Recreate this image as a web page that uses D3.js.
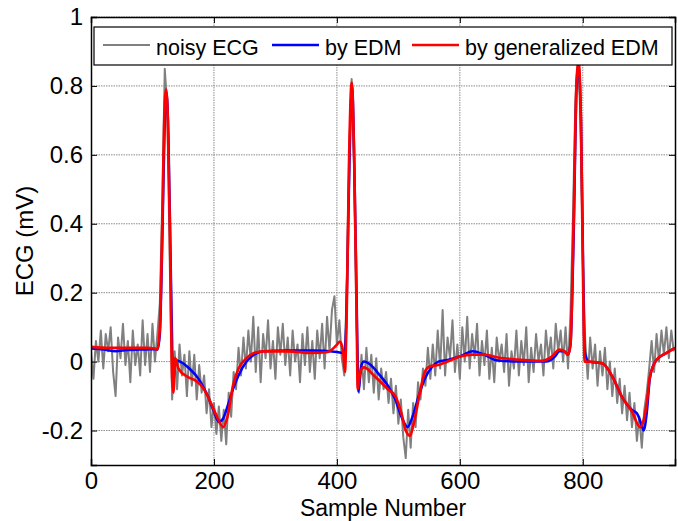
<!DOCTYPE html>
<html><head><meta charset="utf-8">
<script src="https://cdn.jsdelivr.net/npm/d3@7"></script>
<style>body{margin:0;background:#fff}svg{display:block}text{font-family:"Liberation Sans",Arial,sans-serif;fill:#000}</style>
</head><body>
<svg id="c" width="678" height="521"></svg>
<script>
// noisy ECG, one value every 4 samples starting at sample 0
const noisyStep = 4;
const noisyValues = [
0.03,-0.05,0.06,0.00,0.09,-0.02,0.08,0.03,0.10,-0.03,-0.10,0.07,0.01,0.11,-0.01,0.06,-0.06,0.09,-0.01,0.05,
-0.04,0.12,-0.01,0.08,-0.03,0.11,0.00,0.08,0.17,0.47,0.85,0.74,0.30,-0.11,0.03,-0.08,0.05,-0.04,0.02,-0.10,
0.03,-0.07,0.02,-0.11,-0.01,-0.09,-0.04,-0.15,-0.08,-0.19,-0.12,-0.21,-0.13,-0.23,-0.14,-0.24,-0.09,-0.16,-0.03,-0.08,
0.04,-0.04,0.07,-0.02,0.09,0.00,0.13,-0.03,0.10,-0.06,0.08,0.01,0.12,-0.02,0.06,-0.05,0.10,0.02,0.11,-0.01,
0.07,-0.04,0.09,0.00,0.05,-0.06,0.08,-0.01,0.10,-0.03,0.06,-0.05,0.09,0.01,0.11,-0.02,0.13,0.03,0.15,0.19,
0.05,0.12,0.01,-0.04,0.22,0.62,0.82,0.56,0.10,-0.09,0.02,-0.08,0.04,-0.06,0.02,-0.09,0.01,-0.11,-0.02,-0.08,
-0.03,-0.12,-0.05,-0.15,-0.07,-0.18,-0.11,-0.22,-0.28,-0.14,-0.25,-0.12,-0.19,-0.06,-0.11,-0.02,-0.07,0.04,-0.05,0.05,
-0.04,0.09,-0.02,0.15,-0.04,0.07,0.01,0.12,-0.03,0.05,-0.05,0.10,0.00,0.13,-0.02,0.08,0.01,0.11,-0.04,0.06,
-0.01,0.09,-0.05,0.04,-0.06,0.07,0.00,0.05,-0.03,0.08,-0.07,0.03,-0.02,0.09,-0.04,0.06,-0.01,0.10,-0.06,0.04,
-0.03,0.08,0.00,0.05,-0.04,0.09,0.01,0.07,-0.02,0.11,0.03,0.09,0.00,0.10,-0.02,0.14,0.42,0.76,0.88,0.72,
0.30,0.06,-0.05,0.07,-0.02,0.05,-0.07,0.03,-0.04,0.04,-0.08,0.00,-0.10,-0.02,-0.12,-0.05,-0.15,-0.07,-0.17,-0.09,
-0.19,-0.12,-0.23,-0.16,-0.25,-0.14,-0.09,-0.02,0.06,-0.03,0.08,0.00,0.09,0.02,0.10,0.01,0.09,0.03
];
// EDM result
const edmSamples = [0,20,40,60,80,100,108,112,116,120,123,126,130,134,137,145,160,175,190,200,208,215,222,231,240,253,265,280,320,360,400,412,415,418,422,425,428,432,435,440,444,455,470,483,495,505,515,523,533,543,555,565,580,600,621,640,662,700,740,755,762,770,776,780,785,790,793,797,800,803,810,832,850,863,880,888,893,899,904,909,915,920,936,950];
const edmValues = [0.038,0.035,0.03,0.034,0.035,0.036,0.035,0.08,0.35,0.70,0.78,0.65,0.25,-0.06,0.005,0.0,-0.02,-0.05,-0.10,-0.145,-0.175,-0.165,-0.13,-0.08,-0.04,0.0,0.02,0.03,0.032,0.032,0.028,0.025,0.1,0.35,0.7,0.80,0.6,0.2,-0.087,-0.01,0.0,-0.01,-0.04,-0.07,-0.11,-0.16,-0.19,-0.16,-0.10,-0.05,-0.015,0.0,0.005,0.015,0.03,0.02,0.003,0.0,0.0,0.015,0.03,0.03,0.02,0.05,0.35,0.8,0.86,0.7,0.35,0.03,0.0,-0.005,-0.05,-0.1,-0.14,-0.15,-0.17,-0.2,-0.15,-0.05,-0.01,0.005,0.025,0.04];
// generalized EDM result
const gedmSamples = [0,30,60,90,104,108,112,116,120,122,125,129,132,134,137,142,158,170,182,195,205,215,222,231,240,253,265,280,320,360,385,398,405,410,413,416,420,424,428,432,434,438,444,460,483,495,505,512,519,525,535,543,551,565,580,600,621,640,662,700,733,750,762,770,776,780,785,790,793,797,800,803,810,832,850,863,880,893,899,904,909,920,936,950];
const gedmValues = [0.043,0.04,0.04,0.04,0.038,0.035,0.1,0.4,0.75,0.79,0.7,0.3,-0.05,-0.09,0.01,-0.02,-0.045,-0.055,-0.075,-0.12,-0.16,-0.19,-0.16,-0.07,-0.02,0.01,0.025,0.03,0.03,0.025,0.028,0.045,0.058,0.03,-0.03,0.15,0.6,0.81,0.6,0.15,-0.08,-0.03,-0.017,-0.04,-0.08,-0.1,-0.15,-0.2,-0.215,-0.18,-0.09,-0.03,-0.014,-0.01,0.0,0.015,0.02,0.02,0.012,0.005,0.002,0.015,0.035,0.03,0.02,0.05,0.4,0.82,0.87,0.7,0.3,0.0,0.0,-0.005,-0.05,-0.1,-0.145,-0.19,-0.17,-0.12,-0.045,0.005,0.025,0.04];
const xTicks = [0,200,400,600,800];
const yTicks = [-0.2,0,0.2,0.4,0.6,0.8,1];
const yTickLabels = ["-0.2","0","0.2","0.4","0.6","0.8","1"];
const legendLabels = ["noisy ECG","by EDM","by generalized EDM"];
const seriesColors = ["#808080","#0000ff","#ff0000"];

const L=91,T=17,R=675,B=465;
const svg=d3.select("#c");
const x=d3.scaleLinear().domain([0,950]).range([L,R]);
const y=d3.scaleLinear().domain([-0.3,1]).range([B,T]);

// grid
const g=svg.append("g");
g.selectAll(".gx").data(xTicks.slice(1)).enter().append("line")
 .attr("x1",d=>x(d)).attr("x2",d=>x(d)).attr("y1",T).attr("y2",B)
 .attr("stroke","#8c8c8c").attr("stroke-width",1).attr("stroke-dasharray","1.5,1");
g.selectAll(".gy").data(yTicks).enter().append("line")
 .attr("y1",d=>y(d)).attr("y2",d=>y(d)).attr("x1",L).attr("x2",R)
 .attr("stroke","#8c8c8c").attr("stroke-width",1).attr("stroke-dasharray","1.5,1");

svg.append("defs").append("clipPath").attr("id","clip").append("rect")
 .attr("x",L).attr("y",T).attr("width",R-L).attr("height",B-T);
const plot=svg.append("g").attr("clip-path","url(#clip)");

const noisy=noisyValues.map((v,i)=>[i*noisyStep,v]);
const edm=edmSamples.map((s,i)=>[s,edmValues[i]]);
const gedm=gedmSamples.map((s,i)=>[s,gedmValues[i]]);
const lineStraight=d3.line().x(d=>x(d[0])).y(d=>y(d[1]));
const lineSmooth=d3.line().x(d=>x(d[0])).y(d=>y(d[1])).curve(d3.curveMonotoneX);
plot.append("path").attr("d",lineStraight(noisy)).attr("fill","none").attr("stroke",seriesColors[0]).attr("stroke-width",2).attr("stroke-linejoin","round");
plot.append("path").attr("d",lineSmooth(edm)).attr("fill","none").attr("stroke",seriesColors[1]).attr("stroke-width",2.5).attr("stroke-linejoin","round");
plot.append("path").attr("d",lineSmooth(gedm)).attr("fill","none").attr("stroke",seriesColors[2]).attr("stroke-width",2.7).attr("stroke-linejoin","round");

// axes
const fs=24;
const axB=svg.append("g").attr("transform",`translate(0,${B})`)
 .call(d3.axisBottom(x).tickValues(xTicks).tickSize(-6).tickPadding(7).tickFormat(d3.format("d")));
const axT=svg.append("g").attr("transform",`translate(0,${T})`)
 .call(d3.axisTop(x).tickValues(xTicks).tickSize(-6).tickFormat(""));
const axL=svg.append("g").attr("transform",`translate(${L},0)`)
 .call(d3.axisLeft(y).tickValues(yTicks).tickSize(-6).tickPadding(8).tickFormat((d,i)=>yTickLabels[i]));
const axR=svg.append("g").attr("transform",`translate(${R},0)`)
 .call(d3.axisRight(y).tickValues(yTicks).tickSize(-6).tickFormat(""));
[axB,axT,axL,axR].forEach(a=>{
  a.select(".domain").attr("stroke","#000").attr("stroke-width",1.5);
  a.selectAll(".tick line").attr("stroke","#000").attr("stroke-width",1);
  a.selectAll("text").style("font-size",fs+"px").style("font-family","'Liberation Sans',Arial,sans-serif").attr("fill","#000");
});
axB.selectAll("text").attr("dy","0.71em");

svg.append("text").attr("x",(L+R)/2).attr("y",516).attr("text-anchor","middle").style("font-size","23px").text("Sample Number");
svg.append("text").attr("transform",`translate(33,${(T+B)/2}) rotate(-90)`).attr("text-anchor","middle").style("font-size",fs+"px").text("ECG (mV)");

// legend
const lfs=21.5;
const lg=svg.append("g");
lg.append("rect").attr("x",94).attr("y",27).attr("width",578).attr("height",38).attr("fill","#fff").attr("stroke","#000").attr("stroke-width",1.2);
const lx=[103,272,412];
legendLabels.forEach((t,i)=>{
  lg.append("line").attr("x1",lx[i]).attr("x2",lx[i]+47).attr("y1",45).attr("y2",45).attr("stroke",seriesColors[i]).attr("stroke-width",i==0?2:2.5);
  lg.append("text").attr("x",lx[i]+53).attr("y",55).style("font-size",lfs+"px").text(t);
});
</script>
</body></html>
